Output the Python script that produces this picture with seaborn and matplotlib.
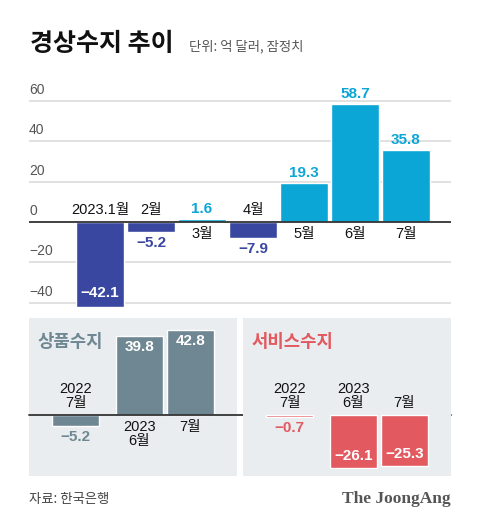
import matplotlib
matplotlib.use("Agg")
import matplotlib.pyplot as plt
import seaborn as sns
import pandas as pd

# ---------------- data ----------------
months = ["2023.1월", "2월", "3월", "4월", "5월", "6월", "7월"]
balance = [-42.1, -5.2, 1.6, -7.9, 19.3, 58.7, 35.8]
y_ticks = [-40, -20, 0, 20, 40, 60]

goods_labels = ["2022\n7월", "2023\n6월", "7월"]
goods_values = [-5.2, 39.8, 42.8]
service_labels = ["2022\n7월", "2023\n6월", "7월"]
service_values = [-0.7, -26.1, -25.3]

title = "경상수지 추이"
subtitle = "단위: 억 달러, 잠정치"
source = "자료: 한국은행"
brand = "The JoongAng"

# ---------------- style ----------------
NEG = "#3a47a0"
POS = "#0ba6d6"
SLATE = "#6f8792"
RED = "#e2595f"
PANEL = "#e9edef"
GRID = "#dedede"
ZERO = "#333333"

sns.set_style("white")
plt.rcParams["font.family"] = ["Liberation Sans", "Noto Sans CJK KR"]
FAM = ["Liberation Sans", "Noto Sans CJK KR"]
KFAM = ["Noto Sans CJK KR", "Liberation Sans"]

W, H = 480, 527
fig = plt.figure(figsize=(W / 100, H / 100), dpi=100)


def rect(x0, y0, x1, y1):
    return [x0 / W, 1 - y1 / H, (x1 - x0) / W, (y1 - y0) / H]


def fmt(v):
    return f"{v:.1f}".replace("-", "\u2212")


def pt(px):
    return px * 0.72


# ---------------- top chart ----------------
ax = fig.add_axes(rect(29, 85, 451, 318))
df = pd.DataFrame({"month": months, "value": balance,
                   "sign": ["pos" if v >= 0 else "neg" for v in balance]})
sns.barplot(data=df, x="month", y="value", hue="sign",
            palette={"pos": POS, "neg": NEG}, legend=False,
            width=0.93, saturation=1, ax=ax, zorder=3)
ax.set_xlim(-1.392, 6.882)
ax.set_ylim((222 - 318) / 2.015, (222 - 85) / 2.015)
for s in ax.spines.values():
    s.set_visible(False)
ax.set_xticks([])
ax.set_yticks([])
ax.set_xlabel("")
ax.set_ylabel("")
for t in y_ticks:
    if t == 0:
        ax.axhline(0, color=ZERO, lw=1.3, zorder=4)
    else:
        ax.axhline(t, color=GRID, lw=1.3, zorder=1)
    ax.annotate(f"{t}".replace("-", "\u2212"), (0, t),
                xycoords=ax.get_yaxis_transform(),
                xytext=(0, pt(4)), textcoords="offset points",
                ha="left", va="bottom", fontsize=10, color="#555555",
                family=FAM)

for i, (m, v) in enumerate(zip(months, balance)):
    # month label
    if v < 0:
        ax.annotate(m, (i, 0), xytext=(0, pt(5)), textcoords="offset points",
                    ha="center", va="bottom", fontsize=10.5, color="#111111",
                    family=FAM, zorder=5)
    else:
        ax.annotate(m, (i, 0), xytext=(0, -pt(5)), textcoords="offset points",
                    ha="center", va="top", fontsize=10.5, color="#111111",
                    family=FAM, zorder=5)
    # value label
    if v >= 0:
        ax.annotate(fmt(v), (i, v), xytext=(0, pt(10)), textcoords="offset points",
                    ha="center", va="center", fontsize=11, fontweight="bold",
                    color=POS, family=FAM, zorder=5)
    elif v < -20:
        ax.annotate(fmt(v), (i, v), xytext=(0, pt(13.5)), textcoords="offset points",
                    ha="center", va="center", fontsize=11, fontweight="bold",
                    color="white", family=FAM, zorder=5)
    else:
        ax.annotate(fmt(v), (i, v), xytext=(0, -pt(11)), textcoords="offset points",
                    ha="center", va="center", fontsize=11, fontweight="bold",
                    color=NEG, family=FAM, zorder=5)

# ---------------- lower panels ----------------
positions = [0, 1.25, 2.25]


def panel(box, labels, values, color, name, extend_zero):
    a = fig.add_axes(rect(*box))
    a.set_facecolor(PANEL)
    d = pd.DataFrame({"pos": positions, "value": values, "label": labels})
    sns.barplot(data=d, x="pos", y="value", native_scale=True, color=color,
                width=0.93, saturation=1, ax=a, zorder=3)
    a.set_xlim(1.125 - 2.039, 1.125 + 2.039)
    a.set_ylim((415.3 - 476) / 2.0, (415.3 - 318) / 2.0)
    for s in a.spines.values():
        s.set_visible(False)
    a.set_xticks([])
    a.set_yticks([])
    a.set_xlabel("")
    a.set_ylabel("")
    if extend_zero:
        a.axhline(0, xmin=0, xmax=(451 - 29) / 208, color=ZERO, lw=1.3,
                  zorder=4, clip_on=False)
    a.text(0.04, 0.85, name, transform=a.transAxes, ha="left", va="center",
           fontsize=12.8, fontweight="bold", color=color, family=KFAM)
    for p, lab, v in zip(positions, labels, values):
        big = abs(v) > 20
        # month label
        if v < 0 or color == RED:
            a.annotate(lab, (p, 0), xytext=(0, pt(5)), textcoords="offset points",
                       ha="center", va="bottom", fontsize=10.5, color="#111111",
                       family=FAM, linespacing=1.0, zorder=5)
        else:
            a.annotate(lab, (p, 0), xytext=(0, -pt(5)), textcoords="offset points",
                       ha="center", va="top", fontsize=10.5, color="#111111",
                       family=FAM, linespacing=1.0, zorder=5)
        # value label
        if big and v > 0:
            a.annotate(fmt(v), (p, v), xytext=(0, -pt(11.7)), textcoords="offset points",
                       ha="center", va="center", fontsize=11, fontweight="bold",
                       color="white", family=FAM, zorder=5)
        elif big and v < 0:
            a.annotate(fmt(v), (p, v), xytext=(0, pt(12)), textcoords="offset points",
                       ha="center", va="center", fontsize=11, fontweight="bold",
                       color="white", family=FAM, zorder=5)
        else:
            a.annotate(fmt(v), (p, v), xytext=(0, -pt(11.7)), textcoords="offset points",
                       ha="center", va="center", fontsize=11, fontweight="bold",
                       color=color, family=FAM, zorder=5)
    return a


panel((29, 318, 237, 476), goods_labels, goods_values, SLATE, "상품수지", True)
panel((243, 318, 451, 476), service_labels, service_values, RED, "서비스수지", False)

# ---------------- titles / footer ----------------
fig.text(30 / W, 1 - 44 / H, title, ha="left", va="center", fontsize=18,
         fontweight=900, color="#111111", family=KFAM)
fig.text(189 / W, 1 - 46 / H, subtitle, ha="left", va="center", fontsize=9.6,
         color="#555555", family=KFAM)
fig.text(29 / W, 1 - 499 / H, source, ha="left", va="center", fontsize=9.6,
         color="#444444", family=KFAM)
fig.text(451 / W, 1 - 499 / H, brand, ha="right", va="center", fontsize=12.5,
         fontweight="bold", color="#555555", family=["Liberation Serif", "DejaVu Serif"])

fig.savefig("out.png", dpi=100)
